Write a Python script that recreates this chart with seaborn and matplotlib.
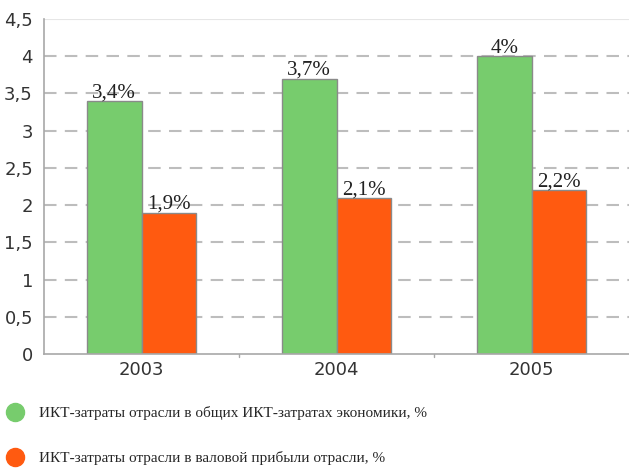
import matplotlib
matplotlib.use("Agg")
import matplotlib.pyplot as plt
import seaborn as sns
import pandas as pd
from matplotlib.lines import Line2D

years = ["2003", "2004", "2005"]
share_total = [3.4, 3.7, 4.0]
share_profit = [1.9, 2.1, 2.2]
series_names = [
    "ИКТ-затраты отрасли в общих ИКТ-затратах экономики, %",
    "ИКТ-затраты отрасли в валовой прибыли отрасли, %",
]
y_ticks = [0, 0.5, 1, 1.5, 2, 2.5, 3, 3.5, 4, 4.5]

colors = ["#77CC6D", "#FF5A10"]

df = pd.DataFrame({
    "year": years * 2,
    "value": share_total + share_profit,
    "series": [series_names[0]] * 3 + [series_names[1]] * 3,
})

sns.set_style("white")
fig = plt.figure(figsize=(6.29, 4.68), dpi=100)
ax = fig.add_axes([0.070, 0.2436, 0.93, 0.7158])

sns.barplot(data=df, x="year", y="value", hue="series", palette=colors,
            saturation=1, width=0.56, gap=0, edgecolor="#8a8a8a", linewidth=1,
            legend=False, ax=ax)

# подписи над столбцами
def fmt(v):
    s = f"{v:g}".replace(".", ",")
    return s + "%"

for cont in ax.containers:
    ax.bar_label(cont, labels=[fmt(b.get_height()) for b in cont], padding=-1,
                 fontsize=15, family="Liberation Serif", color="#222222")

ax.set_ylim(0, 4.5)
ax.set_xlim(-0.5, 2.5)
ax.set_yticks(y_ticks)
ax.set_yticklabels([f"{t:g}".replace(".", ",") for t in y_ticks])
ax.set_xlabel("")
ax.set_ylabel("")

for t in y_ticks[1:-1]:
    ax.axhline(t, color="#bdbdbd", linestyle=(0, (6, 4)), linewidth=1.5, zorder=0)
ax.axhline(4.5, color="#e6e6e6", linewidth=1.5, zorder=0)

for s in ["top", "right"]:
    ax.spines[s].set_visible(False)
for s in ["left", "bottom"]:
    ax.spines[s].set_color("#a8a8a8")
    ax.spines[s].set_linewidth(1.2)

ax.tick_params(axis="y", length=4, color="#a8a8a8", labelsize=13, labelcolor="#333333", pad=4)
ax.tick_params(axis="x", length=0, labelsize=13, labelcolor="#333333", pad=5)
for xb in [0.5, 1.5]:
    ax.plot([xb, xb], [0, -0.04], color="#a8a8a8", lw=1, clip_on=False,
            transform=ax.transData)

handles = [Line2D([], [], marker="o", linestyle="", markersize=13,
                  markerfacecolor=c, markeredgecolor=c) for c in colors]
fig.legend(handles, series_names, loc="upper left", bbox_to_anchor=(-0.013, 0.161),
           frameon=False, prop={"family": "Liberation Serif", "size": 11},
           labelspacing=2.0, handletextpad=1.0, handlelength=1.2)

fig.savefig("out.png", dpi=100)
